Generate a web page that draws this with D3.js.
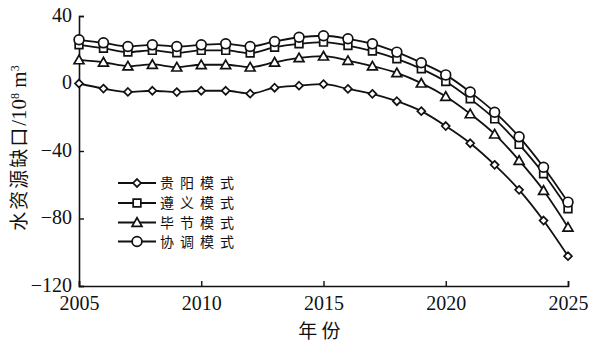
<!DOCTYPE html>
<html>
<head>
<meta charset="utf-8">
<script src="https://cdn.jsdelivr.net/npm/d3@7"></script>
<style>
  html, body { margin: 0; padding: 0; background: #fff; }
  svg { display: block; }
</style>
</head>
<body>
<svg id="chart" width="591" height="346"></svg>
<script>
// Years on the x axis
const years = d3.range(2005, 2026);

// Water shortage (10^8 m^3) for each scenario
const guiyang = [0, -3, -5, -4.3, -5.1, -4.3, -4.3, -6, -2.5, -1.3, -0.4, -3.2, -6.1, -10.5, -16.4, -25.2, -35.4, -48.2, -63, -81.2, -102.3];
const zunyi   = [22.9, 20.9, 18.6, 19.6, 18.2, 19.6, 19.6, 18, 21.5, 23.5, 24.5, 22.5, 19.2, 14.6, 8.7, 1.2, -9.1, -21, -36.1, -53.5, -74.2];
const bijie   = [14, 12.6, 10.3, 11.3, 9.7, 11.1, 11.1, 9.7, 12.6, 15.2, 16.2, 13.6, 10.3, 6.3, 0.2, -7.7, -18, -30, -45.6, -63.4, -85.2];
const xietiao = [25.9, 24.1, 21.9, 22.9, 21.9, 22.9, 23.5, 21.9, 24.9, 27.4, 28.3, 26.5, 23.5, 18.6, 12.3, 5.1, -5.1, -17, -31.6, -49.6, -70.3];

const seriesNames = ["贵阳模式", "遵义模式", "毕节模式", "协调模式"];
const seriesMarkers = ["diamond", "square", "triangle", "circle"];
const seriesValues = [guiyang, zunyi, bijie, xietiao];

const xTicks = [2005, 2010, 2015, 2020, 2025];
const yTicks = [40, 0, -40, -80, -120];

const svg = d3.select("#chart");
const serif = "'Liberation Serif', 'Times New Roman', serif";
const cjk = "'Noto Sans CJK SC', sans-serif";

const x = d3.scaleLinear().domain([2005, 2025]).range([79, 568]);
const y = d3.scaleLinear().domain([-120, 40]).range([286, 16]);

// Axes
const xAxis = svg.append("g")
  .attr("transform", `translate(0,${y(-120)})`)
  .call(d3.axisBottom(x).tickValues(xTicks).tickFormat(d3.format("d")).tickSizeInner(-5).tickSizeOuter(-5).tickPadding(11));
const yAxis = svg.append("g")
  .attr("transform", `translate(${x(2005)},0)`)
  .call(d3.axisLeft(y).tickValues(yTicks).tickSizeInner(-5).tickSizeOuter(-5).tickPadding(7));

[xAxis, yAxis].forEach(g => {
  g.select(".domain").attr("stroke", "#111").attr("stroke-width", 1.6);
  g.selectAll(".tick line").attr("stroke", "#111").attr("stroke-width", 1.4);
  g.selectAll(".tick text").attr("fill", "#111").style("font-family", serif).style("font-size", "20px");
});
xAxis.selectAll(".tick text").attr("dy", "0.66em");
yAxis.selectAll(".tick text").attr("dy", "0.25em");

// Axis titles
svg.append("text")
  .attr("x", x(2015) - 4).attr("y", 338)
  .attr("text-anchor", "middle")
  .style("font-family", cjk).style("font-size", "19px").attr("fill", "#111")
  .text("年 份");

const yTitle = svg.append("text")
  .attr("transform", `translate(26,${148}) rotate(-90)`)
  .attr("text-anchor", "middle")
  .style("font-size", "21px").attr("fill", "#111");
yTitle.append("tspan").style("font-family", cjk).style("font-size", "19px").style("letter-spacing", "2px").text("水资源缺口");
yTitle.append("tspan").style("font-family", serif).text("/10");
yTitle.append("tspan").style("font-family", serif).style("font-size", "12px").attr("baseline-shift", "super").text("8");
yTitle.append("tspan").style("font-family", serif).text(" m");
yTitle.append("tspan").style("font-family", serif).style("font-size", "12px").attr("baseline-shift", "super").text("3");

// Marker drawing
const symbolOf = {
  diamond: d3.symbol().type(d3.symbolDiamond2).size(40),
  square: d3.symbol().type(d3.symbolSquare2).size(75),
  triangle: d3.symbol().type(d3.symbolTriangle2).size(70),
  circle: d3.symbol().type(d3.symbolCircle).size(75)
};
function drawMarker(g, kind, cx, cy) {
  const yOff = kind === "triangle" ? 1 : 0;
  g.append("path")
    .attr("d", symbolOf[kind]())
    .attr("transform", `translate(${cx},${cy + yOff})`)
    .attr("fill", "#fff").attr("stroke", "#111").attr("stroke-width", 1.7);
}

const line = d3.line()
  .x((d, i) => x(years[i]))
  .y(d => y(d))
  .curve(d3.curveMonotoneX);

// Series lines and markers
seriesValues.forEach((vals, si) => {
  const g = svg.append("g");
  g.append("path").datum(vals).attr("d", line)
    .attr("fill", "none").attr("stroke", "#111").attr("stroke-width", 1.8);
  vals.forEach((v, i) => drawMarker(g, seriesMarkers[si], x(years[i]), y(v)));
});

// Legend
const legendRows = [183, 203, 222.5, 241.5];
seriesNames.forEach((name, i) => {
  const g = svg.append("g");
  g.append("line").attr("x1", 118).attr("x2", 156).attr("y1", legendRows[i]).attr("y2", legendRows[i])
    .attr("stroke", "#111").attr("stroke-width", 1.8);
  drawMarker(g, seriesMarkers[i], 137, legendRows[i]);
  g.append("text").attr("x", 160).attr("y", legendRows[i]).attr("dy", "0.36em")
    .style("font-family", cjk).style("font-size", "14px").style("letter-spacing", "6px").attr("fill", "#111")
    .text(name);
});
</script>
</body>
</html>
